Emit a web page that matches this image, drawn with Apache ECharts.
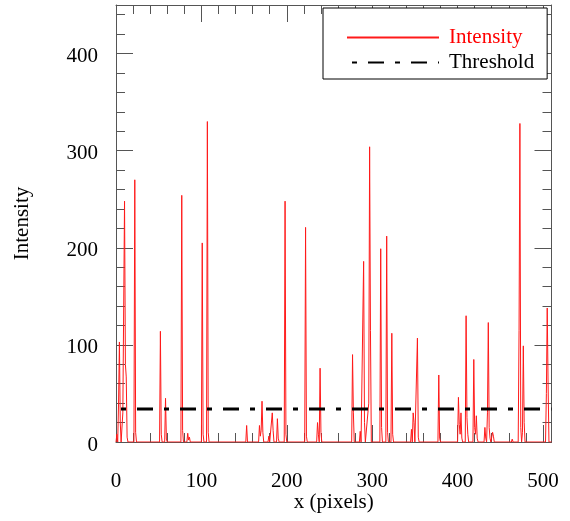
<!DOCTYPE html>
<html><head><meta charset="utf-8">
<script src="https://cdn.jsdelivr.net/npm/echarts@6/dist/echarts.min.js"></script>
<style>html,body{margin:0;padding:0;background:#fff}#c{width:570px;height:521px}</style>
</head><body><div id="c"></div>
<script>
// Intensity profile (x in pixels, intensity)
const intensityX = [0,1,2,3,4,5,6,8,10,11,12,13,14,21,22,23,24,51,52,53,54,57,58,59,60,76,77,78,79,83,84,85,86,87,
  100,101,102,103,106,107,108,109,152,153,154,167,168,169,170,171,172,173,178,179,180,182,183,184,185,188,189,190,191,
  197,198,199,200,221,222,223,224,235,236,237,238,239,240,241,276,277,278,279,285,286,287,289,290,291,292,296,297,298,299,
  309,310,311,312,316,317,318,319,322,323,324,325,345,346,347,348,349,350,352,353,354,355,377,378,379,380,
  400,401,402,403,404,405,406,409,410,411,412,413,418,419,420,421,422,423,424,431,432,433,434,435,436,437,438,439,
  440,441,442,443,463,464,465,471,472,473,474,475,476,477,478,479,503,504,505,506,507,510];
const intensityY = [0,8,0,40,103,20,0,30,248,80,67,5,0,0,270,10,0,0,114,8,0,0,45,3,0,0,254,12,0,0,9,2,5,0,
  0,205,8,0,0,330,10,0,0,17,0,0,17,6,12,42,10,0,0,6,0,0,30,12,0,0,24,4,0,
  0,248,8,0,0,221,6,0,0,20,8,0,76,10,0,0,90,30,0,0,11,0,0,186,20,0,40,304,115,0,
  0,199,15,0,0,212,10,0,0,112,8,0,0,13,0,30,20,0,0,107,5,0,0,69,4,0,
  0,46,18,8,30,4,0,0,130,25,8,0,0,85,15,8,27,4,0,0,15,4,0,30,123,15,4,0,
  0,10,6,0,0,3,0,0,115,328,15,0,10,99,20,0,0,50,138,60,0,0];
const thresholdX = [0, 510];
const thresholdY = [34, 34];
const xTickLabels = [0, 100, 200, 300, 400, 500];
const yTickLabels = [0, 100, 200, 300, 400];

const FONT = 'Liberation Serif';
const AX = '#555';
const chart = echarts.init(document.getElementById('c'), null, {renderer: 'canvas'});

function xAx(pos, interval, len, main) {
  return {
    type: 'value', position: pos, min: 0, max: 510, interval: interval,
    axisLine: {show: main, onZero: false, lineStyle: {color: AX, width: 1}},
    axisTick: {show: true, inside: true, length: len, lineStyle: {color: AX, width: 1}},
    axisLabel: (main && pos === 'bottom') ? {
      show: true, margin: 29, color: '#000', fontFamily: FONT, fontSize: 21,
      showMaxLabel: false,
      formatter: v => xTickLabels.includes(v) ? String(v) : ''
    } : {show: false},
    splitLine: {show: false},
    name: (main && pos === 'bottom') ? 'x (pixels)' : '',
    nameLocation: 'middle', nameGap: 50, nameMoveOverlap: false,
    nameTextStyle: {color: '#000', fontFamily: FONT, fontSize: 21}
  };
}
function yAx(pos, interval, len, main) {
  return {
    type: 'value', position: pos, min: 0, max: 450, interval: interval,
    axisLine: {show: main, onZero: false, lineStyle: {color: AX, width: 1}},
    axisTick: {show: true, inside: true, length: len, lineStyle: {color: AX, width: 1}},
    axisLabel: (main && pos === 'left') ? {
      show: true, margin: 18, color: '#000', fontFamily: FONT, fontSize: 21,
      showMaxLabel: false, verticalAlign: 'top', lineHeight: 6,
      formatter: v => yTickLabels.includes(v) ? String(v) : ''
    } : {show: false},
    splitLine: {show: false},
    name: (main && pos === 'left') ? 'Intensity' : '',
    nameLocation: 'middle', nameGap: 83, nameMoveOverlap: false,
    nameTextStyle: {color: '#000', fontFamily: FONT, fontSize: 21}
  };
}

const option = {
  animation: false,
  backgroundColor: '#fff',
  grid: {left: 116, right: 18.5, top: 5, bottom: 79, containLabel: false},
  xAxis: [xAx('bottom', 100, 17, true), xAx('bottom', 20, 9, false), xAx('top', 100, 17, true), xAx('top', 20, 9, false)],
  yAxis: [yAx('left', 100, 17, true), yAx('left', 20, 9, false), yAx('right', 100, 17, true), yAx('right', 20, 9, false)],
  legend: {
    left: 323, top: 8, orient: 'vertical',
    itemWidth: 92, itemHeight: 14, itemGap: 4,
    padding: [19, 13, 6, 23],
    borderColor: '#000', borderWidth: 1, borderRadius: 0, backgroundColor: '#fff',
    itemStyle: {opacity: 0, color: 'rgba(0,0,0,0)', borderWidth: 0},
    textStyle: {fontFamily: FONT, fontSize: 21, lineHeight: 21, padding: [0, 0, 0, 5]},
    data: [
      {name: 'Intensity', textStyle: {color: '#ff0000'}},
      {name: 'Threshold', textStyle: {color: '#000'}}
    ]
  },
  series: [
    {
      name: 'Intensity', type: 'line', symbol: 'none', showSymbol: false,
      data: intensityX.map((x, i) => [x, intensityY[i]]),
      lineStyle: {color: '#ff1a1a', width: 1},
      itemStyle: {color: '#ff1a1a'},
      z: 2
    },
    {
      name: 'Threshold', type: 'line', symbol: 'none', showSymbol: false,
      data: thresholdX.map((x, i) => [x, thresholdY[i]]),
      lineStyle: {color: '#000', width: 3, type: [16, 11, 5, 11], dashOffset: 22},
      itemStyle: {color: '#000'},
      z: 3
    }
  ]
};
chart.setOption(option);
</script>
</body></html>
